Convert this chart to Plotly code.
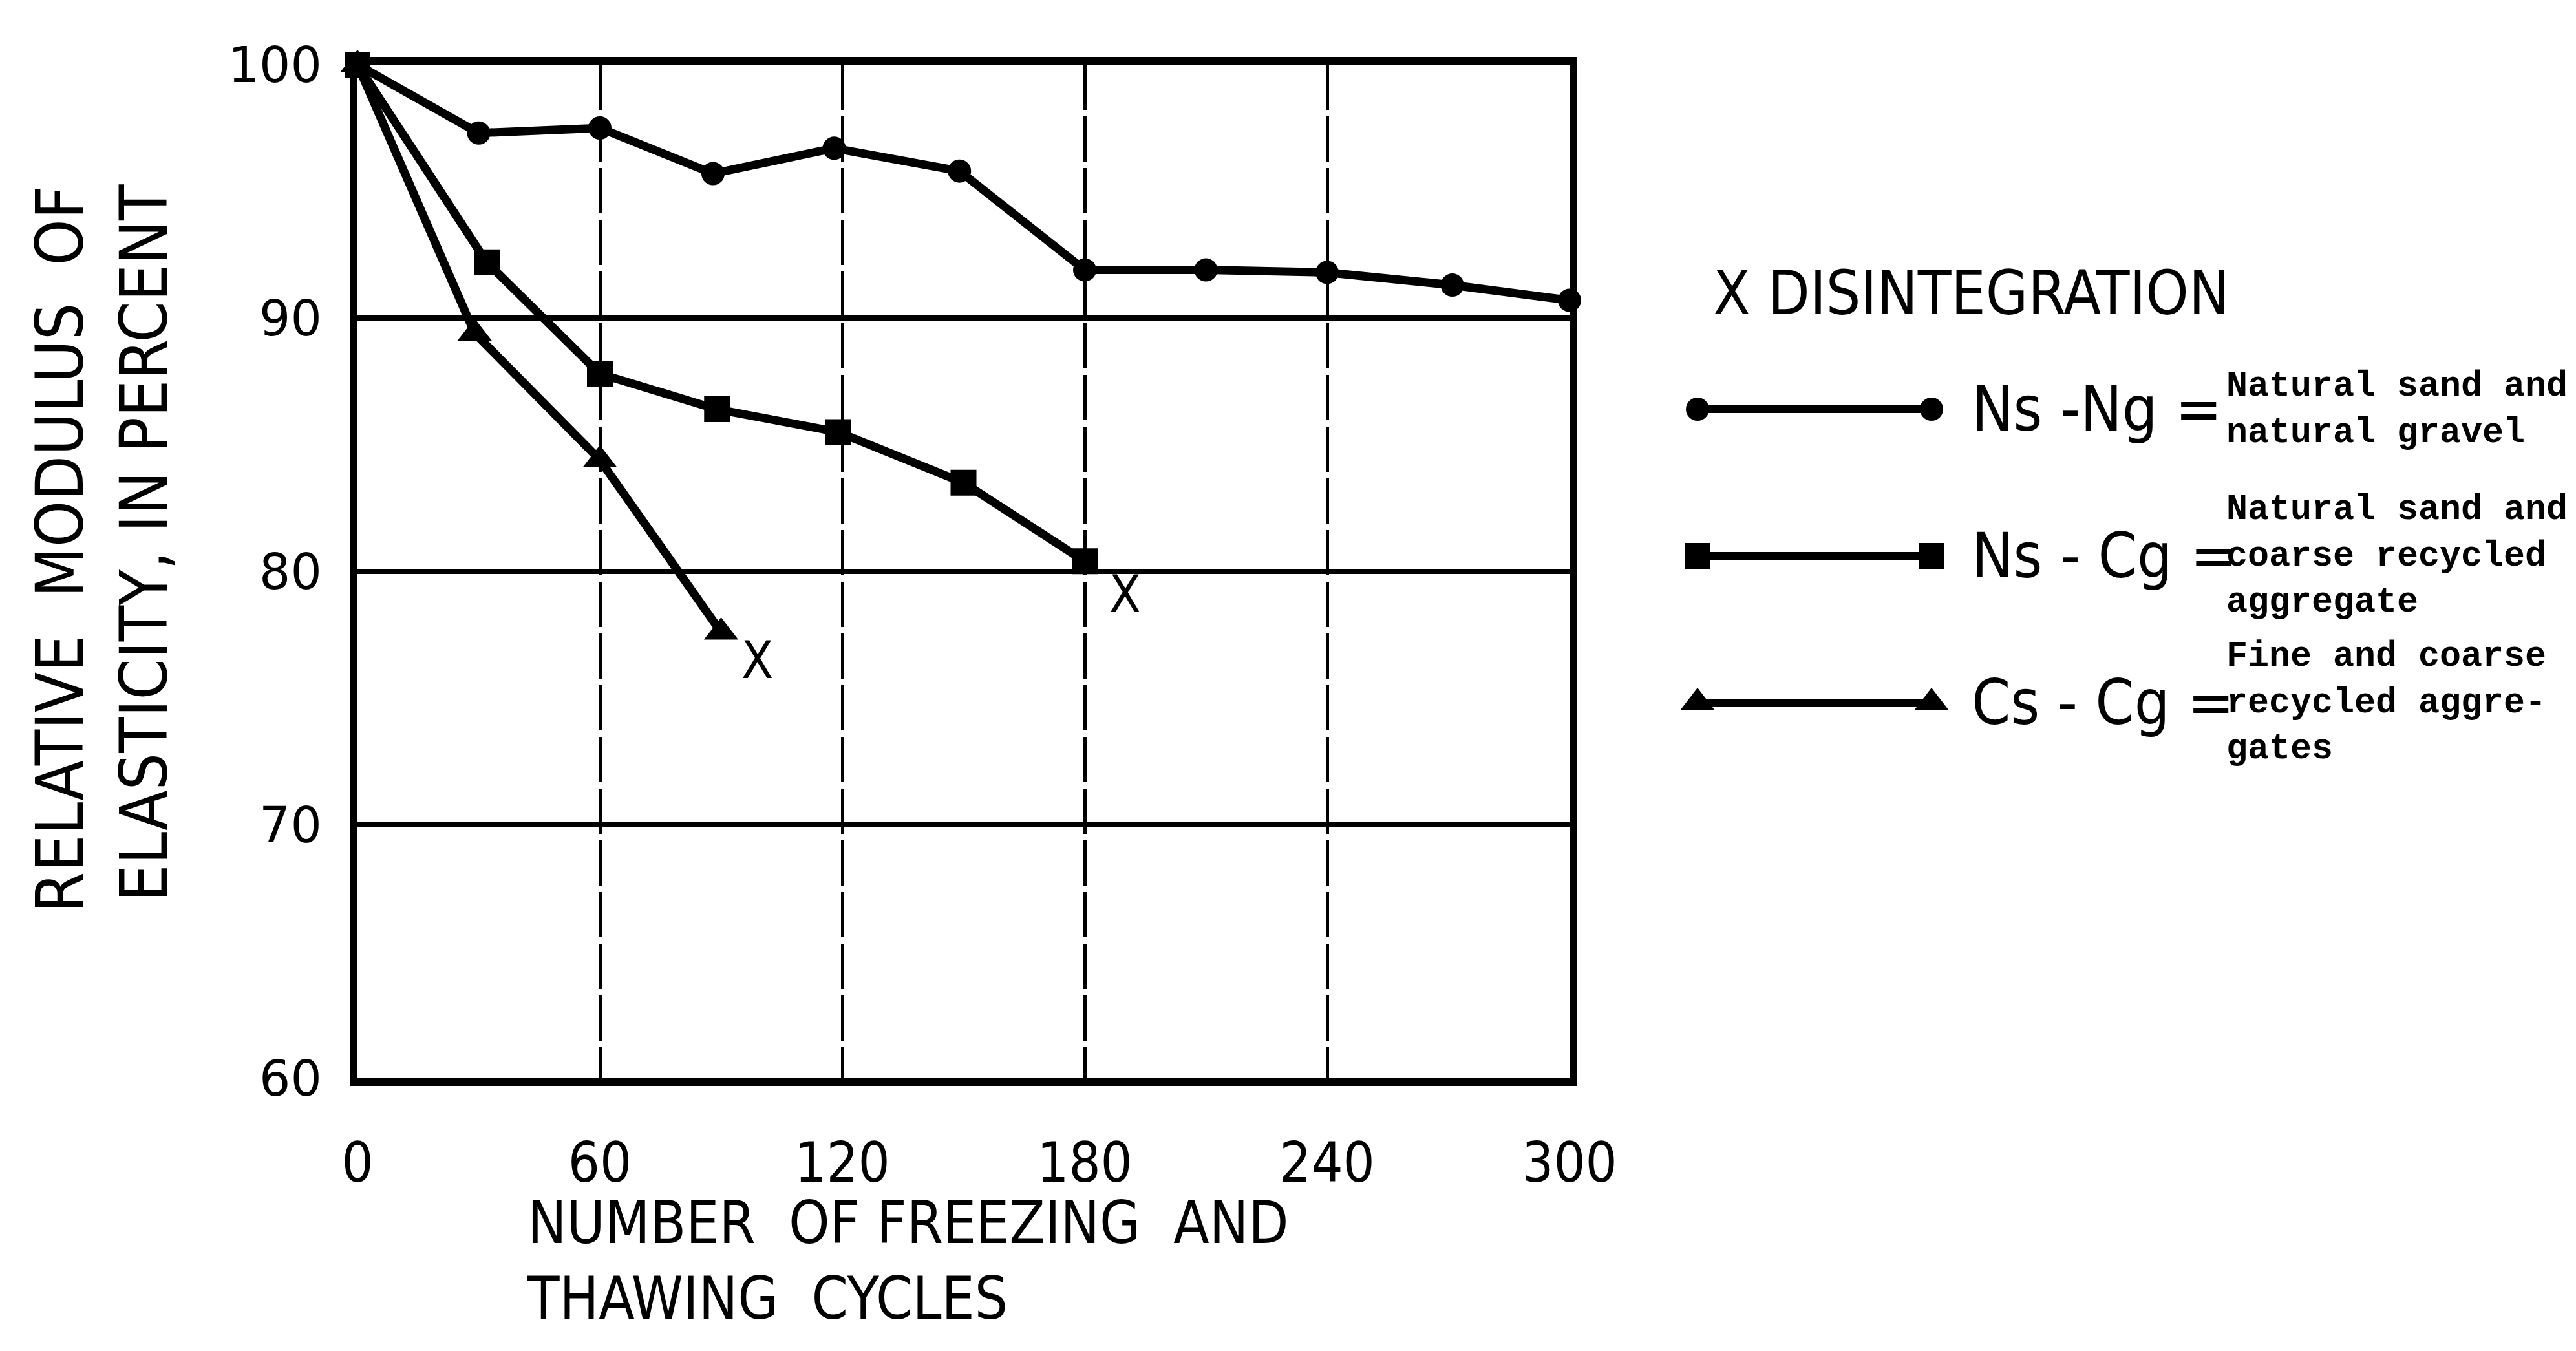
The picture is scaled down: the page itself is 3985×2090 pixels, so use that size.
import plotly.graph_objects as go

# ---------------- data ----------------
series_names = ["Ns-Ng", "Ns-Cg", "Cs-Cg"]

cycles_ns_ng = [0, 30, 60, 88, 118, 149, 180, 210, 240, 271, 300]
modulus_ns_ng = [100, 97.3, 97.5, 95.7, 96.7, 95.8, 91.9, 91.9, 91.8, 91.3, 90.7]

cycles_ns_cg = [0, 32, 60, 89, 119, 150, 180]
modulus_ns_cg = [100, 92.2, 87.8, 86.4, 85.5, 83.5, 80.4]

cycles_cs_cg = [0, 29, 60, 90]
modulus_cs_cg = [100, 89.4, 84.4, 77.6]

disintegration_cycles = [99, 190]
disintegration_modulus = [76.3, 78.9]

x_ticks = [0, 60, 120, 180, 240, 300]
y_ticks = [60, 70, 80, 90, 100]

legend_labels = ["Ns -Ng =", "Ns - Cg =", "Cs - Cg ="]
legend_notes = [
    "Natural sand and<br>natural gravel",
    "Natural sand and<br>coarse recycled<br>aggregate",
    "Fine and coarse<br>recycled aggre-<br>gates",
]
symbols = ["circle", "square", "triangle-up"]
marker_sizes = [36, 40, 46]

# ---------------- styling ----------------
NARROW = "Liberation Sans Narrow, DejaVu Sans Condensed, Liberation Sans, sans-serif"
MONO = "Liberation Mono, DejaVu Sans Mono, monospace"
BLACK = "#000000"
W, H = 3985, 2090

fig = go.Figure()

series = [
    (cycles_ns_ng, modulus_ns_ng),
    (cycles_ns_cg, modulus_ns_cg),
    (cycles_cs_cg, modulus_cs_cg),
]
for name, (xs, ys), sym, ms in zip(series_names, series, symbols, marker_sizes):
    fig.add_trace(go.Scatter(
        x=xs, y=ys, mode="lines+markers", name=name,
        line=dict(color=BLACK, width=13),
        marker=dict(symbol=sym, size=ms, color=BLACK),
        cliponaxis=False, showlegend=False,
    ))

fig.add_trace(go.Scatter(
    x=disintegration_cycles, y=disintegration_modulus, mode="text",
    text=["X"] * len(disintegration_cycles),
    textfont=dict(family=NARROW, size=80, color=BLACK),
    showlegend=False, cliponaxis=False,
))

# ---------------- custom legend keys on an overlay axis ----------------
for name, sym, ms in zip(series_names, symbols, marker_sizes):
    fig.add_trace(go.Scatter(
        x=[0, 1], y=[name, name], mode="lines+markers",
        xaxis="x2", yaxis="y2",
        line=dict(color=BLACK, width=12),
        marker=dict(symbol=sym, size=ms, color=BLACK),
        cliponaxis=False, showlegend=False, hoverinfo="skip",
    ))

annotations = []
for name, lab, note in zip(series_names, legend_labels, legend_notes):
    annotations.append(dict(
        x=3048 / W, xref="paper", y=name, yref="y2",
        text=lab, showarrow=False, xanchor="left", yanchor="middle",
        font=dict(family=NARROW, size=96, color=BLACK),
    ))
    annotations.append(dict(
        x=3442 / W, xref="paper", y=name, yref="y2",
        text=note, showarrow=False, xanchor="left", yanchor="middle", align="left",
        font=dict(family=MONO, size=55, color=BLACK, weight="bold"),
    ))

annotations.append(dict(
    x=2648 / W, xref="paper", y=1 - 453 / H, yref="paper",
    text="X DISINTEGRATION", showarrow=False, xanchor="left", yanchor="middle",
    font=dict(family=NARROW, size=94, color=BLACK),
))

# axis titles
annotations.append(dict(
    x=93 / W, xref="paper", y=1 - 850 / H, yref="paper",
    text="RELATIVE  MODULUS  OF", textangle=-90, showarrow=False,
    xanchor="center", yanchor="middle",
    font=dict(family=NARROW, size=101, color=BLACK),
))
annotations.append(dict(
    x=223 / W, xref="paper", y=1 - 840 / H, yref="paper",
    text="ELASTICITY, IN PERCENT", textangle=-90, showarrow=False,
    xanchor="center", yanchor="middle",
    font=dict(family=NARROW, size=101, color=BLACK),
))
annotations.append(dict(
    x=813 / W, xref="paper", y=1 - 1950 / H, yref="paper",
    text="NUMBER  OF FREEZING  AND<br>THAWING  CYCLES", showarrow=False,
    xanchor="left", yanchor="middle", align="left",
    font=dict(family=NARROW, size=90, color=BLACK),
))

fig.update_layout(
    width=W, height=H, autosize=False,
    margin=dict(l=0, r=0, t=0, b=0, pad=0),
    paper_bgcolor="white", plot_bgcolor="white",
    showlegend=False,
    xaxis=dict(
        domain=[553 / W, 2428 / W], range=[0, 300], automargin=False,
        tickvals=x_ticks, ticktext=[str(v) for v in x_ticks],
        showgrid=True, gridcolor=BLACK, gridwidth=5, griddash="70px,10px",
        showline=True, linecolor=BLACK, linewidth=12, mirror=True,
        zeroline=False, ticks="", ticklabelstandoff=45,
        tickfont=dict(family=NARROW, size=86, color=BLACK),
    ),
    yaxis=dict(
        domain=[1 - 1668 / H, 1 - 100 / H], range=[60, 100], automargin=False,
        tickvals=y_ticks, ticktext=[str(v) for v in y_ticks],
        showgrid=True, gridcolor=BLACK, gridwidth=8,
        showline=True, linecolor=BLACK, linewidth=12, mirror=True,
        zeroline=False, ticks="", ticklabelstandoff=28,
        tickfont=dict(family="DejaVu Sans, sans-serif", size=76, color=BLACK),
    ),
    xaxis2=dict(
        domain=[2626 / W, 2988 / W], range=[0, 1], automargin=False,
        visible=False, anchor="y2",
    ),
    yaxis2=dict(
        domain=[1 - 1200.5 / H, 1 - 519.5 / H], automargin=False,
        type="category", categoryorder="array", categoryarray=series_names,
        range=[2.5, -0.5], visible=False, anchor="x2",
    ),
    annotations=annotations,
)

fig.write_html("out.html")
